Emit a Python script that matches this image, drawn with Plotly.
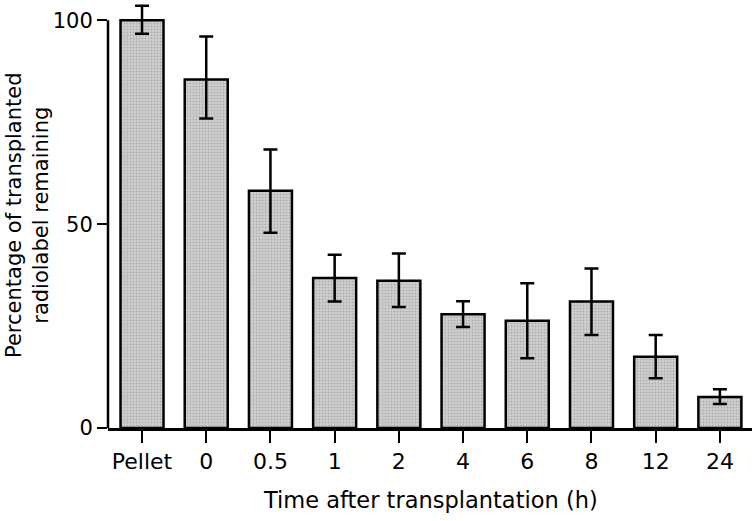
import plotly.graph_objects as go

categories = ["Pellet", "0", "0.5", "1", "2", "4", "6", "8", "12", "24"]
values = [100, 85.5, 58.2, 36.8, 36.1, 27.9, 26.3, 31.0, 17.5, 7.6]
err_plus = [3.6, 10.5, 10.1, 5.7, 6.7, 3.2, 9.2, 8.1, 5.3, 1.9]
err_minus = [3.3, 9.6, 10.3, 5.8, 6.4, 3.1, 9.2, 8.2, 5.3, 1.7]
y_ticks = [0, 50, 100]

FONT = "DejaVu Sans"

fig = go.Figure()
fig.add_trace(go.Bar(
    x=list(range(len(categories))),
    y=values,
    width=0.67,
    marker=dict(
        color="#c2c2c2",
        line=dict(color="black", width=2.5),
        pattern=dict(shape=".", fgcolor="#8e8e8e", bgcolor="#cfcfcf", size=3, solidity=0.3),
    ),
    error_y=dict(type="data", symmetric=False, array=err_plus, arrayminus=err_minus,
                 color="black", thickness=2.5, width=7),
))

# y-axis line from 0 to 100
fig.add_shape(type="line", xref="paper", yref="y", x0=0, x1=0, y0=0, y1=100,
              line=dict(color="black", width=2.5))

fig.add_annotation(text="Percentage of transplanted<br>radiolabel remaining",
                   xref="paper", yref="paper", x=-0.126, y=0.502, xanchor="center", yanchor="middle",
                   textangle=-90, showarrow=False, font=dict(size=21))
fig.add_annotation(text="Time after transplantation (h)",
                   xref="paper", yref="paper", x=0.5, y=-0.17, xanchor="center", yanchor="middle",
                   showarrow=False, font=dict(size=22.5))

fig.update_layout(
    width=756, height=521,
    margin=dict(l=108, r=4, t=4, b=93),
    plot_bgcolor="white", paper_bgcolor="white",
    showlegend=False,
    font=dict(family=FONT, size=21, color="black"),
    xaxis=dict(
        range=[-0.53, 9.5], automargin=False,
        tickmode="array", tickvals=list(range(len(categories))), ticktext=categories,
        ticks="outside", ticklen=12, tickwidth=2, tickcolor="black",
        showline=True, linecolor="black", linewidth=2.5,
        showgrid=False, zeroline=False,
        tickfont=dict(size=22),
    ),
    yaxis=dict(
        range=[0, 104], automargin=False,
        tickmode="array", tickvals=y_ticks, ticktext=[str(t) for t in y_ticks],
        ticks="outside", ticklen=10, tickwidth=2, tickcolor="black",
        showline=False, showgrid=False, zeroline=False,
        tickfont=dict(size=21),
    ),
)

fig.write_html("out.html", config={"displayModeBar": False},
               post_script="document.body.style.margin='0';")
